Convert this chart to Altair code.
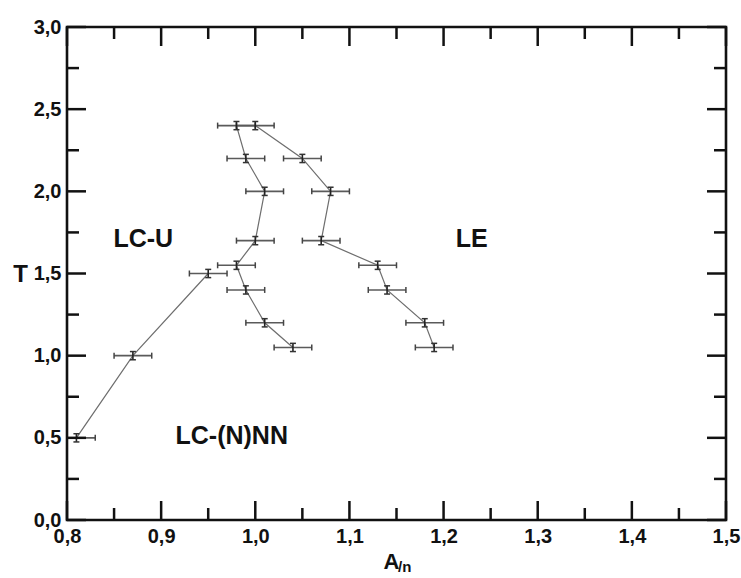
import altair as alt
import pandas as pd

# Phase-boundary points: A/n (x) against temperature T (y)
lower_a = [0.81, 0.87, 0.95]
lower_t = [0.5, 1.0, 1.5]

inner_a = [0.98, 0.99, 1.01, 1.00, 0.98, 0.99, 1.01, 1.04]
inner_t = [2.4, 2.2, 2.0, 1.7, 1.55, 1.4, 1.2, 1.05]

outer_a = [1.00, 1.05, 1.08, 1.07, 1.13, 1.14, 1.18, 1.19]
outer_t = [2.4, 2.2, 2.0, 1.7, 1.55, 1.4, 1.2, 1.05]

a_err = 0.02
t_err = 0.025

# Region labels
region_names = ["LC-U", "LE", "LC-(N)NN"]
region_a = [0.881, 1.23, 0.975]
region_t = [1.71, 1.71, 0.51]

# Axis ticks
x_major = [0.8, 0.9, 1.0, 1.1, 1.2, 1.3, 1.4, 1.5]
x_minor = [0.85, 0.95, 1.05, 1.15, 1.25, 1.35, 1.45]
y_major = [0.0, 0.5, 1.0, 1.5, 2.0, 2.5, 3.0]
y_minor = [0.25, 0.75, 1.25, 1.75, 2.25, 2.75]

W, H = 659, 493
MAJOR, MINOR = 19, 12
FONT = "Liberation Sans"

rows = []
for name, xs, ts in [("lower", lower_a, lower_t), ("inner", inner_a, inner_t), ("outer", outer_a, outer_t)]:
    for i, (a, t) in enumerate(zip(xs, ts)):
        rows.append({"series": name, "idx": i, "a": a, "t": t,
                     "alo": a - a_err, "ahi": a + a_err,
                     "tlo": t - t_err, "thi": t + t_err})
df = pd.DataFrame(rows)

xscale = alt.Scale(domain=[0.8, 1.5], nice=False, zero=False)
yscale = alt.Scale(domain=[0.0, 3.0], nice=False, zero=False)
comma = "replace(format(datum.value, '.1f'), '.', ',')"

x_axis = alt.Axis(values=x_major, labelExpr=comma, domain=False, ticks=False, tickSize=0,
                  grid=False, labelFont=FONT, labelFontSize=20, labelFontWeight="bold",
                  labelColor="#111", labelPadding=6, labelFlush=False, labelOverlap=False,
                  title="A", titleFont=FONT, titleFontSize=22, titleFontWeight="bold",
                  titleColor="#111", titleX=316, titleY=48, titleBaseline="alphabetic",
                  titleAnchor="start", titleAlign="left")
y_axis = alt.Axis(values=y_major, labelExpr=comma, domain=False, ticks=False, tickSize=0,
                  grid=False, labelFont=FONT, labelFontSize=20, labelFontWeight="bold",
                  labelColor="#111", labelPadding=6, labelFlush=False, labelOverlap=False,
                  title="T", titleFont=FONT, titleFontSize=24, titleFontWeight="bold",
                  titleColor="#111", titleAngle=0, titleX=-47, titleY=247,
                  titleAlign="center", titleBaseline="middle")


def X(field):
    return alt.X(field, type="quantitative", scale=xscale, axis=x_axis)


def Y(field):
    return alt.Y(field, type="quantitative", scale=yscale, axis=y_axis)


base = alt.Chart(df)

lines = base.mark_line(color="#6e6e6e", strokeWidth=1.2, clip=True).encode(
    x=X("a"), y=Y("t"), detail="series:N", order="idx:Q",
)

hbar = base.mark_rule(color="#5a5a5a", strokeWidth=1.6, clip=True).encode(
    x=X("alo"), x2="ahi:Q", y=Y("t"),
)
hcap_lo = base.mark_tick(orient="vertical", size=6, thickness=1.5, color="#444", opacity=1, clip=True).encode(
    x=X("alo"), y=Y("t"))
hcap_hi = base.mark_tick(orient="vertical", size=6, thickness=1.5, color="#444", opacity=1, clip=True).encode(
    x=X("ahi"), y=Y("t"))

vbar = base.mark_rule(color="#222", strokeWidth=1.6).encode(
    x=X("a"), y=Y("tlo"), y2="thi:Q",
)
vcap_lo = base.mark_tick(orient="horizontal", size=6, thickness=1.5, color="#333", opacity=1).encode(
    x=X("a"), y=Y("tlo"))
vcap_hi = base.mark_tick(orient="horizontal", size=6, thickness=1.5, color="#333", opacity=1).encode(
    x=X("a"), y=Y("thi"))

regions = alt.Chart(pd.DataFrame({"name": region_names, "a": region_a, "t": region_t})).mark_text(
    font=FONT, fontSize=25, fontWeight="bold", color="#111", align="center", baseline="middle"
).encode(x=X("a"), y=Y("t"), text="name:N")

# subscript of the x-axis title
subscript = alt.Chart(pd.DataFrame({"s": ["/n"]})).mark_text(
    font=FONT, fontSize=15, fontWeight="bold", color="#111", align="left", baseline="alphabetic"
).encode(x=alt.value(331), y=alt.value(545), text="s:N")


def x_ticks(values, length):
    d = alt.Chart(pd.DataFrame({"v": values}))
    bottom = d.mark_rule(color="#111", strokeWidth=2.5).encode(
        x=X("v"), y=alt.value(H), y2=alt.value(H - length))
    top = d.mark_rule(color="#111", strokeWidth=2.5).encode(
        x=X("v"), y=alt.value(0), y2=alt.value(length))
    return [bottom, top]


def y_ticks(values, length):
    d = alt.Chart(pd.DataFrame({"v": values}))
    left = d.mark_rule(color="#111", strokeWidth=2.5).encode(
        y=Y("v"), x=alt.value(0), x2=alt.value(length))
    right = d.mark_rule(color="#111", strokeWidth=2.5).encode(
        y=Y("v"), x=alt.value(W), x2=alt.value(W - length))
    return [left, right]


tick_layers = (x_ticks(x_major, MAJOR) + x_ticks(x_minor, MINOR)
               + y_ticks(y_major, MAJOR) + y_ticks(y_minor, MINOR))

chart = alt.layer(
    lines, hbar, hcap_lo, hcap_hi, vbar, vcap_lo, vcap_hi, regions, subscript, *tick_layers
).properties(
    width=W, height=H,
    autosize=alt.AutoSizeParams(type="none"),
    padding={"left": 67, "top": 27, "right": 15, "bottom": 58},
    background="white",
).configure_view(
    stroke="#111", strokeWidth=2.6
)

chart.save("out.html", embed_options={"renderer": "svg", "actions": False})
